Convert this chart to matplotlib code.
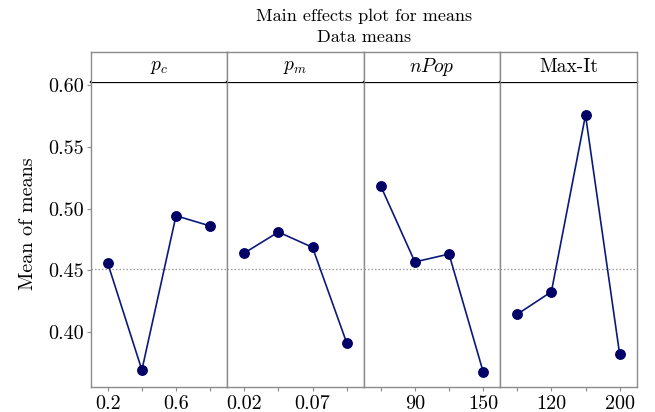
import matplotlib
matplotlib.use("Agg")
import matplotlib.pyplot as plt
import numpy as np

plt.rcParams["font.family"] = "serif"
plt.rcParams["font.serif"] = ["cmr10"]
plt.rcParams["mathtext.fontset"] = "cm"
plt.rcParams["axes.formatter.use_mathtext"] = True

# Factor names and mean responses at each of the four levels
factors = ["$p_c$", "$p_m$", "$nPop$", "Max-It"]
pc_means = [0.4558, 0.3695, 0.4943, 0.4860]
pm_means = [0.4641, 0.4811, 0.4687, 0.3916]
npop_means = [0.5183, 0.4569, 0.4633, 0.3681]
maxit_means = [0.4146, 0.4328, 0.5757, 0.3824]

# Level labels shown under each panel (every other level is labelled)
pc_ticks = ["0.2", "", "0.6", ""]
pm_ticks = ["0.02", "", "0.07", ""]
npop_ticks = ["", "90", "", "150"]
maxit_ticks = ["", "120", "", "200"]

y_ticks = [0.40, 0.45, 0.50, 0.55, 0.60]

series = [pc_means, pm_means, npop_means, maxit_means]
tick_sets = [pc_ticks, pm_ticks, npop_ticks, maxit_ticks]
grand_mean = np.mean(np.concatenate([np.array(s) for s in series]))

W, H = 655, 412
fig = plt.figure(figsize=(W / 100, H / 100), dpi=100)

left_px, right_px = 90.7, 636.7
bottom_px, top_px = 386.7, 81.7
strip_top_px = 51.7
panel_w = (right_px - left_px) / 4

navy = "#000066"
line_col = "#0a1a7a"
edge = "#8c8c8c"
ylim = (0.356, 0.6027)

for i, (vals, labels, name) in enumerate(zip(series, tick_sets, factors)):
    x0 = (left_px + i * panel_w) / W
    ax = fig.add_axes([x0, 1 - bottom_px / H, panel_w / W, (bottom_px - top_px) / H])
    xs = np.arange(len(vals))
    ax.axhline(grand_mean, color="#9a9a9a", linestyle=(0, (1.2, 1.6)), linewidth=0.9, zorder=1)
    ax.plot(xs, vals, color=line_col, linewidth=1.2, zorder=2)
    ax.plot(xs, vals, linestyle="none", marker="o", markersize=6.8,
            markerfacecolor=navy, markeredgecolor=navy, zorder=3)
    ax.set_xlim(-0.5, 3.5)
    ax.set_ylim(*ylim)
    ax.set_xticks(xs)
    ax.set_xticklabels(labels, fontsize=14.5)
    ax.tick_params(axis="x", direction="out", length=3, width=0.8, color=edge, pad=3)
    for side in ["left", "right", "bottom"]:
        ax.spines[side].set_color(edge)
        ax.spines[side].set_linewidth(1.0)
    ax.spines["top"].set_color("black")
    ax.spines["top"].set_linewidth(1.6)
    if i == 0:
        ax.set_yticks(y_ticks)
        ax.set_yticklabels([f"{v:.2f}" for v in y_ticks], fontsize=14.5)
        ax.tick_params(axis="y", direction="out", length=3, width=0.8, color=edge, pad=2)
        ax.set_ylabel("Mean of means", fontsize=14.5)
        ax.yaxis.set_label_coords(-0.395, 0.535)
    else:
        ax.set_yticks([])

    # header strip with the factor name
    hx = fig.add_axes([x0, 1 - top_px / H, panel_w / W, (top_px - strip_top_px) / H])
    hx.set_xticks([])
    hx.set_yticks([])
    for side in ["left", "right", "top"]:
        hx.spines[side].set_color(edge)
        hx.spines[side].set_linewidth(1.0)
    hx.spines["bottom"].set_visible(False)
    hx.text(0.5, 0.5, name, ha="center", va="center", fontsize=14, transform=hx.transAxes)

cx = (left_px + right_px) / 2 / W
fig.text(cx, 1 - 16 / H, "Main effects plot for means", ha="center", va="center", fontsize=13)
fig.text(cx, 1 - 37 / H, "Data means", ha="center", va="center", fontsize=13)

fig.savefig("out.png", dpi=100)
